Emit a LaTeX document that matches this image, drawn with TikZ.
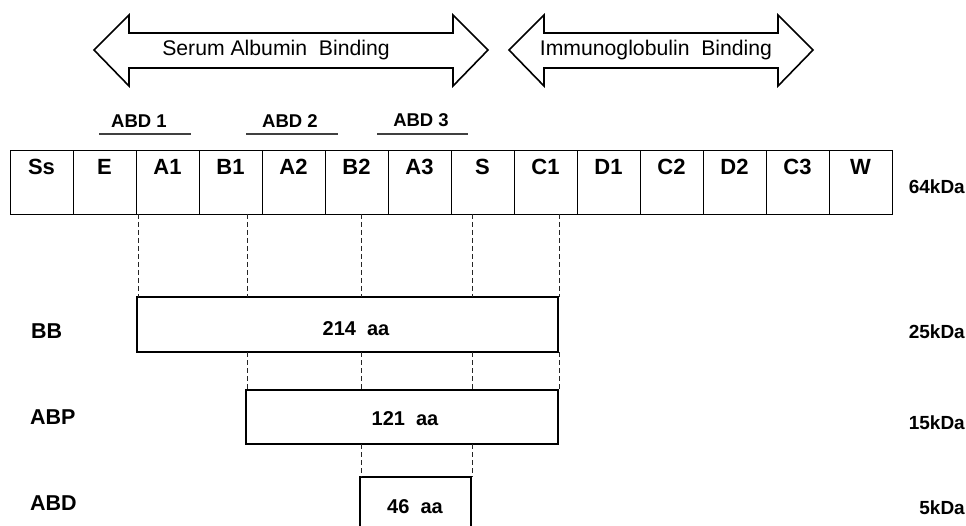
\documentclass[tikz,border=0pt]{standalone}
\usepackage{fontspec}
\setmainfont{Liberation Sans}
\usepackage{graphicx}
\begin{document}
\begin{tikzpicture}[x=1pt,y=-1pt,
  cellbox/.style={draw, line width=0.9pt, minimum width=63pt, minimum height=64pt,
    inner sep=0pt, font=\fontsize{22}{22}\selectfont\bfseries, text height=15.5pt, text depth=30pt},
  bigarrow/.style={draw, line width=1.6pt, fill=white, line join=miter},
  arrowtext/.style={font=\fontsize{21.2}{21.2}\selectfont, inner sep=0pt},
  abdtext/.style={font=\fontsize{18.5}{18.5}\selectfont\bfseries, inner sep=0pt},
  abdline/.style={line width=1.1pt, draw=black!75},
  rowlabel/.style={font=\fontsize{21.5}{21.5}\selectfont\bfseries, inner sep=0pt, anchor=west},
  kdalabel/.style={font=\fontsize{19}{19}\selectfont\bfseries, inner sep=0pt, anchor=east},
  aalabel/.style={font=\fontsize{20}{20}\selectfont\bfseries, inner sep=0pt},
  fragbox/.style={draw, line width=1.8pt, inner sep=0pt},
  guide/.style={line width=0.8pt, dash pattern=on 5pt off 3pt, draw=black!85}
]
\clip (0,0) rectangle (966,526);
\fill[white] (0,0) rectangle (966,526);

% double arrows
\draw[bigarrow] (94,50) -- (129,15) -- (129,33) -- (453,33) -- (453,15) -- (488,50)
  -- (453,86) -- (453,68) -- (129,68) -- (129,86) -- cycle;
\node[arrowtext] (sab) at (276,50) {Serum Albumin\ \ Binding};
\draw[bigarrow] (509,50) -- (544,15) -- (544,33) -- (778,33) -- (778,15) -- (813,50)
  -- (778,86) -- (778,68) -- (544,68) -- (544,86) -- cycle;
\node[arrowtext] (igb) at (656,50) {Immunoglobulin\ \ Binding};

% ABD labels
\node[abdtext] (abd1) at (139,121) {ABD 1};
\node[abdtext] (abd2) at (290,121) {ABD 2};
\node[abdtext] (abd3) at (421,120) {ABD 3};
\draw[abdline] (99,134) -- (191,134);
\draw[abdline] (246,134) -- (338,134);
\draw[abdline] (377,134) -- (468,134);

% domain cells
\foreach \lab [count=\i] in {Ss,E,A1,B1,A2,B2,A3,S,C1,D1,C2,D2,C3,W}
  \node[cellbox] (c\i) at ({10+63*(\i-0.5)},182) {\lab};

% fragment boxes
\node[fragbox, minimum width=421pt, minimum height=55pt] (bb) at (347.5,324.5) {};
\node[fragbox, minimum width=312pt, minimum height=54pt] (abp) at (402,417) {};
\node[fragbox, minimum width=111pt, minimum height=70pt] (abd) at (415.5,512) {};

\node[aalabel] (bbaa) at (356,329) {214\ \ aa};
\node[aalabel] (abpaa) at (405,419) {121\ \ aa};
\node[aalabel] (abdaa) at (415,507) {46\ \ aa};

% guide coordinates
\coordinate (r1) at (138,214);
\coordinate (r2) at (247,214);
\coordinate (r3) at (361,214);
\coordinate (r4) at (472,214);
\coordinate (r5) at (559,214);
\coordinate (b1) at (138,297);
\coordinate (b2) at (247,297);
\coordinate (b3) at (361,297);
\coordinate (b4) at (472,297);
\coordinate (b5) at (559,297);
\coordinate (bb2) at (247,352);
\coordinate (bb3) at (361,352);
\coordinate (bb4) at (472,352);
\coordinate (bb5) at (559,352);
\coordinate (p2) at (247,390);
\coordinate (p3) at (361,390);
\coordinate (p4) at (472,390);
\coordinate (p5) at (559,390);
\coordinate (pb3) at (361,444);
\coordinate (pb4) at (472,444);
\coordinate (d3) at (361,477);
\coordinate (d4) at (472,477);

\draw[guide] (r1) -- (b1);
\draw[guide] (r2) -- (b2);
\draw[guide] (r3) -- (b3);
\draw[guide] (r4) -- (b4);
\draw[guide] (r5) -- (b5);
\draw[guide] (bb2) -- (p2);
\draw[guide] (bb3) -- (p3);
\draw[guide] (bb4) -- (p4);
\draw[guide] (bb5) -- (p5);
\draw[guide] (pb3) -- (d3);
\draw[guide] (pb4) -- (d4);

% row labels
\node[rowlabel] (lbb) at (31,331) {BB};
\node[rowlabel] (labp) at (30,417) {ABP};
\node[rowlabel] (labd) at (30,503) {ABD};

% kDa labels
\node[kdalabel] (k64) at (965,187) {64kDa};
\node[kdalabel] (k25) at (965,332) {25kDa};
\node[kdalabel] (k15) at (965,423) {15kDa};
\node[kdalabel] (k5) at (965,508) {5kDa};
\end{tikzpicture}
\end{document}
